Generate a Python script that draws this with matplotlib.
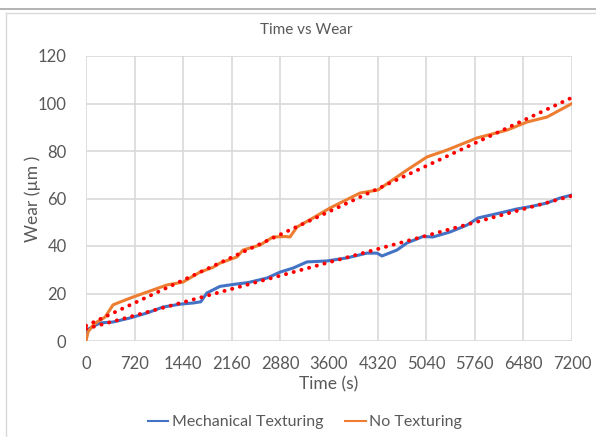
import numpy as np
import matplotlib
matplotlib.use("Agg")
import matplotlib.pyplot as plt
from matplotlib.lines import Line2D

title = "Time vs Wear"
x_label = "Time (s)"
y_label = "Wear (µm )"
x_ticks = [0, 720, 1440, 2160, 2880, 3600, 4320, 5040, 5760, 6480, 7200]
y_ticks = [0, 20, 40, 60, 80, 100, 120]

mech_t = [0, 30, 207, 400, 652, 904, 1141, 1393, 1585, 1700, 1790, 1985, 2178, 2400,
          2681, 2874, 3067, 3274, 3570, 3867, 4163, 4311, 4385, 4607, 4756, 4993, 5141,
          5393, 5644, 5807, 6133, 6385, 6622, 6830, 7022, 7200]
mech_v = [3.5, 5.0, 7.6, 8.0, 9.7, 11.8, 14.3, 15.5, 16.0, 16.5, 20.2, 23.0, 23.8, 24.6,
          26.5, 29.0, 30.7, 33.3, 33.7, 35.0, 37.0, 37.0, 35.8, 38.3, 41.3, 44.0, 43.8,
          45.9, 48.8, 51.8, 53.9, 55.6, 56.8, 58.1, 60.2, 61.5]

none_t = [0, 30, 100, 163, 281, 400, 504, 696, 904, 1200, 1437, 1689, 1881, 1985, 2237, 2326,
          2578, 2770, 2950, 3022, 3126, 3363, 3615, 4059, 4326, 4756, 5052, 5348, 5793,
          6237, 6533, 6830, 7200]
none_v = [0.0, 3.8, 6.5, 8.0, 10.0, 15.2, 16.4, 18.5, 20.6, 23.6, 24.8, 29.0, 31.0, 32.8, 35.4,
          38.3, 40.4, 43.8, 44.0, 43.8, 48.0, 51.8, 56.0, 62.3, 63.6, 72.0, 77.5, 80.4,
          85.5, 88.8, 92.2, 94.3, 100.0]

blue = "#4472C4"
orange = "#ED7D31"
red = "#FF0000"
grid_c = "#D9D9D9"
text_c = "#595959"

plt.rcParams['font.family'] = ['Lato', 'DejaVu Sans']

fig = plt.figure(figsize=(5.96, 4.37), dpi=100)
ax = fig.add_axes([86/596, (437-341)/437, 486/596, 285/437])

ax.plot(mech_t, mech_v, color=blue, lw=2.2, zorder=3)
ax.plot(none_t, none_v, color=orange, lw=2.2, zorder=3)

# linear trendlines
tt = np.array([0, 7200])
for ts, vs in ((mech_t, mech_v), (none_t, none_v)):
    m, b = np.polyfit(ts, vs, 1)
    ax.plot(tt, m * tt + b, color=red, lw=2.8, linestyle=(0, (0.05, 2.0)),
            dash_capstyle='round', zorder=4)

ax.set_xlim(0, 7200)
ax.set_ylim(0, 120)
ax.set_xticks(x_ticks)
ax.set_yticks(y_ticks)
ax.grid(True, color=grid_c, lw=1.2)
ax.set_axisbelow(True)
for s in ax.spines.values():
    s.set_visible(False)
ax.tick_params(length=0, labelsize=12, colors=text_c)
ax.tick_params(axis='x', pad=11)
ax.tick_params(axis='y', pad=14)
ax.set_xlabel(x_label, fontsize=12.5, color=text_c, labelpad=3)
ax.set_ylabel(y_label, fontsize=12.5, color=text_c)
ax.yaxis.set_label_coords((41 - 86) / 486, 0.5)

fig.text(306/596, 1 - 30/437, title, ha='center', va='center', fontsize=11, color=text_c)

handles = [Line2D([], [], color=blue, lw=1.5), Line2D([], [], color=orange, lw=1.5)]
fig.legend(handles, ["Mechanical Texturing", "No Texturing"], loc='center',
           bbox_to_anchor=(305/596, 1 - 422/437), ncol=2, frameon=False,
           fontsize=11.5, labelcolor=text_c, handlelength=1.3, handletextpad=0.2,
           columnspacing=1.4)

# chart frame
fig.add_artist(Line2D([0, 1], [1 - 9/437, 1 - 9/437], color="#A6A6A6", lw=1.2,
                      transform=fig.transFigure))
fig.add_artist(Line2D([5.5/596, 1], [1 - 12.5/437, 1 - 12.5/437], color="#D9D9D9", lw=1.0,
                      transform=fig.transFigure))
fig.add_artist(Line2D([5.5/596, 5.5/596], [0, 1 - 12.5/437], color="#D9D9D9", lw=1.0,
                      transform=fig.transFigure))

fig.savefig("out.png", dpi=100)
